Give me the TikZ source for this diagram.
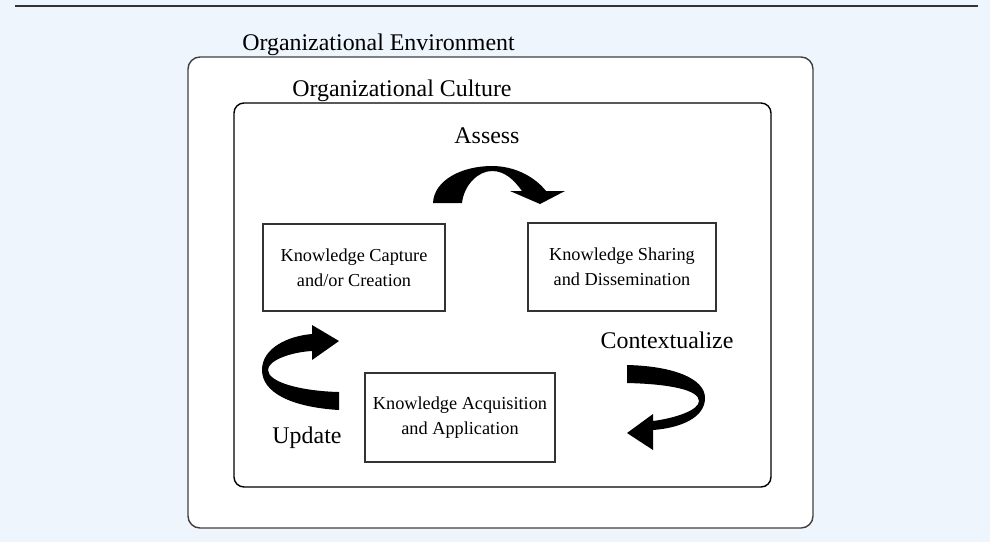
\documentclass[tikz,border=0pt]{standalone}
\usepackage{fontspec}
\setmainfont{Liberation Serif}
\usetikzlibrary{positioning}
\definecolor{pagebg}{RGB}{238,245,252}
\tikzstyle{lbl}=[inner sep=0pt,font=\fontsize{17}{20}\selectfont]
\tikzstyle{kbox}=[draw=black!80,line width=0.8pt,align=center,inner sep=0pt,font=\fontsize{13}{17.5}\selectfont]
\tikzstyle{swoosh}=[fill=black]

\begin{document}
\begin{tikzpicture}[x=0.025cm,y=-0.025cm]
\fill[pagebg] (0,0) rectangle (990,542);
\useasboundingbox (0,0) rectangle (990,542);
\draw[line width=1.3pt,black!80] (15,6) -- (978,6);

% environment and culture frames
\draw[fill=white,draw=black!75,line width=1pt,rounded corners=0.3cm] (188,57) rectangle (813,528);
\draw[draw=black,line width=1pt,rounded corners=0.25cm] (234,103) rectangle (771,487);
\node[lbl,anchor=base west] (env) at (242,50) {Organizational Environment};
\node[lbl,anchor=base west] (cult) at (292,96) {Organizational Culture};

% the three stages
\node[kbox,minimum width=4.55cm,minimum height=2.175cm] (capture) at (354,267.5) {Knowledge Capture\\and/or Creation};
\node[kbox,minimum width=4.7cm,minimum height=2.2cm] (sharing) at (622,267) {Knowledge Sharing\\and Dissemination};
\node[kbox,minimum width=4.75cm,minimum height=2.225cm] (acquis) at (460,417.5) {Knowledge Acquisition\\and Application};

\node[lbl,anchor=base] (assess) at (487,143) {Assess};
\node[lbl,anchor=base] (context) at (667,348) {Contextualize};
\node[lbl,anchor=base] (update) at (307,443) {Update};

% curved arrows
\fill[swoosh] (433,203) .. controls (434,180) and (462,166) .. (492,166)
  .. controls (515,166) and (535,177) .. (546,191) -- (565,191) -- (540,204) -- (510,191) -- (522,191)
  .. controls (514,180) and (505,171) .. (492,171) .. controls (478,171) and (464,185) .. (462,203) -- cycle;
\fill[swoosh] (339,410) .. controls (290,407) and (262,392) .. (262,370)
  .. controls (262,348) and (288,336) .. (312,334) -- (312,325) -- (339,341) -- (312,360) -- (312,351)
  .. controls (292,352) and (268,360) .. (268,370) .. controls (268,382) and (300,391) .. (339,392) -- cycle;
\fill[swoosh] (627,365) .. controls (672,366) and (705,378) .. (705,398)
  .. controls (705,418) and (680,428) .. (653,430) -- (653,450) -- (627,433) -- (653,414) -- (653,421)
  .. controls (676,418) and (699,410) .. (699,401) .. controls (699,390) and (670,384) .. (627,383) -- cycle;
\end{tikzpicture}
\end{document}
